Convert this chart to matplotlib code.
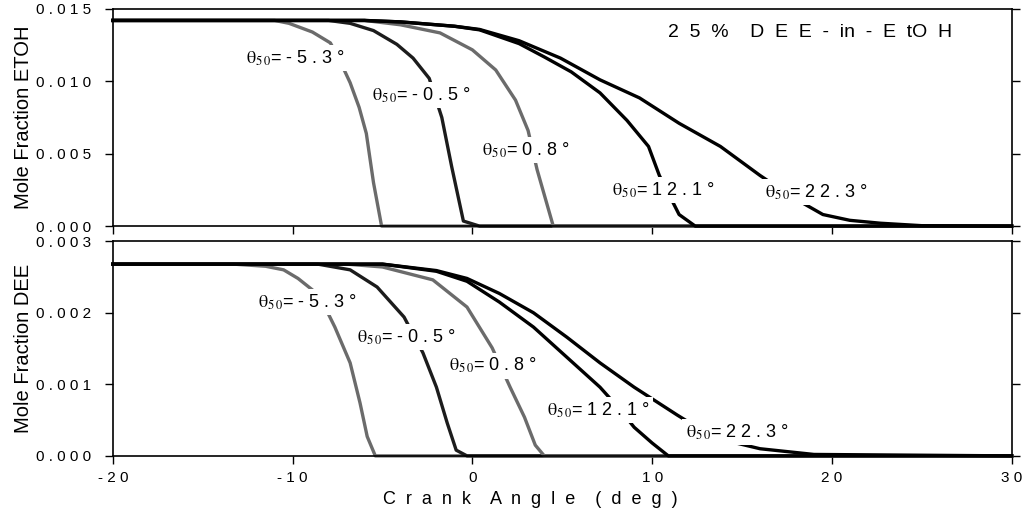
import matplotlib
matplotlib.use("Agg")
import matplotlib.pyplot as plt
from matplotlib.ticker import FuncFormatter

plt.rcParams["font.family"] = ["Liberation Sans", "DejaVu Sans"]
plt.rcParams["mathtext.fontset"] = "stix"

# ETOH mole fraction curves (top panel)
etoh_m53_x = [-20, -11, -10.2, -8.9, -7.9, -7.4, -6.8, -6.3, -5.9, -5.5, -5.05, 30]
etoh_m53_y = [0.0142, 0.0142, 0.0140, 0.0134, 0.01265, 0.0115, 0.0099, 0.0082, 0.0064, 0.0030, 0.0, 0.0]
etoh_m05_x = [-20, -8, -6.8, -5.5, -4.2, -3.3, -2.4, -1.7, -1.15, -0.5, 0.4, 30]
etoh_m05_y = [0.0142, 0.0142, 0.0140, 0.0135, 0.01255, 0.0116, 0.0102, 0.0075, 0.0041, 0.00035, 0.0, 0.0]
etoh_08_x = [-20, -6, -4, -1.8, 0, 1.3, 2.4, 3.1, 3.6, 4.5, 30]
etoh_08_y = [0.0142, 0.0142, 0.0139, 0.01334, 0.01217, 0.01078, 0.0087, 0.0066, 0.0039, 0.0, 0.0]
etoh_121_x = [-20, -6, -4, -1, 0.4, 2.6, 4.0, 5.5, 7.1, 8.6, 9.8, 10.4, 11.5, 12.4, 30]
etoh_121_y = [0.0142, 0.0142, 0.0141, 0.0138, 0.01355, 0.0126, 0.01168, 0.01065, 0.0092, 0.0073, 0.0055,
              0.0035, 0.0008, 0.0, 0.0]
etoh_223_x = [-20, -6, -4, -1, 0.4, 2.6, 4.9, 7.1, 9.3, 11.5, 13.8, 16.0, 17.8, 19.5, 21.0, 22.7, 25, 30]
etoh_223_y = [0.0142, 0.0142, 0.0141, 0.0138, 0.01358, 0.0128, 0.0116, 0.0101, 0.00885, 0.0071, 0.0055,
              0.0035, 0.0020, 0.0008, 0.0004, 0.0002, 0.00003, 0.0]

# DEE mole fraction curves (bottom panel)
dee_m53_x = [-20, -13.3, -11.5, -10.5, -9.7, -8.9, -8.2, -7.65, -6.8, -6.25, -5.85, -5.4, 30]
dee_m53_y = [0.00268, 0.00268, 0.00265, 0.0026, 0.00248, 0.00232, 0.00208, 0.0018, 0.0013, 0.00074,
             0.00027, 0.0, 0.0]
dee_m05_x = [-20, -8.6, -6.8, -5.3, -3.8, -2.75, -2.0, -1.4, -0.9, -0.3, 30]
dee_m05_y = [0.00268, 0.00268, 0.0026, 0.00236, 0.00194, 0.00144, 0.00096, 0.00046, 0.00008, 0.0, 0.0]
dee_08_x = [-20, -7, -5, -2.2, -0.3, 1.1, 2.1, 2.9, 3.5, 4.0, 30]
dee_08_y = [0.00268, 0.00268, 0.00264, 0.00246, 0.00208, 0.00151, 0.00096, 0.00054, 0.00015, 0.0, 0.0]
dee_121_x = [-20, -5, -2, -0.3, 1.5, 3.4, 5.25, 7.1, 8.1, 9.0, 10.0, 10.9, 30]
dee_121_y = [0.00268, 0.00268, 0.00258, 0.00244, 0.00215, 0.0018, 0.00138, 0.00096, 0.00068, 0.0004,
             0.00018, 0.0, 0.0]
dee_223_x = [-20, -5, -2, -0.3, 1.5, 3.4, 5.25, 7.1, 9.0, 11.4, 12.5, 14, 16, 19, 30]
dee_223_y = [0.00268, 0.00268, 0.00259, 0.00248, 0.00227, 0.002, 0.00166, 0.0013, 0.00096, 0.00057,
             0.0004, 0.00022, 0.0001, 0.00002, 0.0]

curve_labels = ["-5.3", "-0.5", "0.8", "12.1", "22.3"]
curve_colors = ["#6b6b6b", "#1c1c1c", "#6b6b6b", "#000000", "#000000"]

etoh_label_pos = [(-12.6, 0.01161), (-5.6, 0.00906), (0.52, 0.00525), (7.75, 0.00249), (16.26, 0.00235)]
dee_label_pos = [(-11.94, 0.00215), (-6.43, 0.00166), (-1.31, 0.00126), (4.14, 0.00064), (11.87, 0.00033)]


def spaced(s, gap=" "):
    return gap.join(s)


def theta_label(ax, x, y, val):
    ax.text(x, y, r"$\mathrm{θ}_{\mathrm{5\,0}}$" + "= " + spaced(val) + " °", fontsize=13,
            ha="left", va="center", bbox=dict(facecolor="white", edgecolor="none", pad=2.5), zorder=5)


def style_axis(ax, ymax, ystep):
    ax.set_xlim(-20, 30)
    ax.set_ylim(0, ymax)
    ax.set_xticks([-20, -10, 0, 10, 20, 30])
    ax.set_yticks([i * ystep for i in range(4)])
    ax.tick_params(direction="out", length=6, width=1, labelsize=11, right=True)
    ax.tick_params(axis="y", pad=10)
    ax.tick_params(axis="x", pad=5)
    ax.yaxis.set_major_formatter(FuncFormatter(lambda v, p: spaced("{:.3f}".format(v))))
    for sp in ax.spines.values():
        sp.set_linewidth(1.2)


fig = plt.figure(figsize=(10.26, 5.21), dpi=100)
ax1 = fig.add_axes([0.110, 0.566, 0.876, 0.417])
ax2 = fig.add_axes([0.110, 0.125, 0.876, 0.412])

etoh = [(etoh_m53_x, etoh_m53_y), (etoh_m05_x, etoh_m05_y), (etoh_08_x, etoh_08_y),
        (etoh_121_x, etoh_121_y), (etoh_223_x, etoh_223_y)]
dee = [(dee_m53_x, dee_m53_y), (dee_m05_x, dee_m05_y), (dee_08_x, dee_08_y),
       (dee_121_x, dee_121_y), (dee_223_x, dee_223_y)]

for (x, y), c in zip(etoh, curve_colors):
    ax1.plot(x, y, color=c, lw=2.4, solid_joinstyle="round", clip_on=False)
for (x, y), c in zip(dee, curve_colors):
    ax2.plot(x, y, color=c, lw=2.4, solid_joinstyle="round", clip_on=False)

for (px, py), lab in zip(etoh_label_pos, curve_labels):
    theta_label(ax1, px, py, lab)
for (px, py), lab in zip(dee_label_pos, curve_labels):
    theta_label(ax2, px, py, lab)

style_axis(ax1, 0.015, 0.005)
style_axis(ax2, 0.003, 0.001)
ax1.set_xticklabels([])
ax2.set_xticklabels([spaced(str(v)) for v in [-20, -10, 0, 10, 20, 30]])

ax1.text(10.87, 0.01334, "2  5  %    D  E  E  -  in  -  E  tO  H", fontsize=14, ha="left", va="center")

ax1.set_ylabel("Mole Fraction ETOH", fontsize=14.5, labelpad=2)
ax2.set_ylabel("Mole Fraction DEE", fontsize=14.5, labelpad=2)
ax2.set_xlabel("C  r  a  n  k    A  n  g  l  e    (  d  e  g  )", fontsize=13, labelpad=4)
ax2.xaxis.label.set_x(0.465)

fig.savefig("out.png", dpi=100)
